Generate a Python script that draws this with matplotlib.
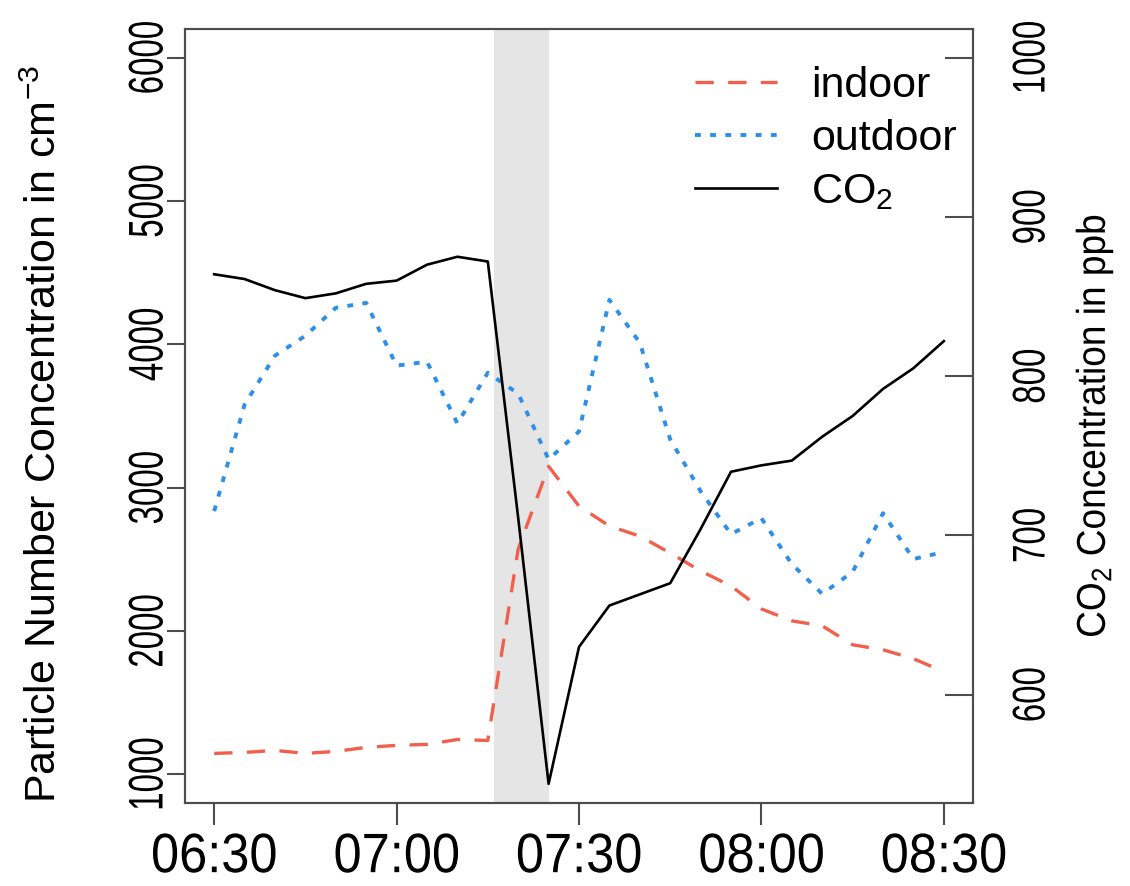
import matplotlib
matplotlib.use("Agg")
import matplotlib.pyplot as plt
import matplotlib.dates as mdates
from matplotlib.patheffects import AbstractPathEffect
from matplotlib.transforms import Affine2D
import pandas as pd

plt.rcParams['font.family'] = ['Liberation Sans', 'DejaVu Sans']
plt.rcParams['mathtext.fontset'] = 'custom'
plt.rcParams['mathtext.rm'] = 'Liberation Sans'

# 5-minute readings
times = ["06:30", "06:35", "06:40", "06:45", "06:50", "06:55", "07:00", "07:05", "07:10",
         "07:15", "07:20", "07:25", "07:30", "07:35", "07:40", "07:45", "07:50", "07:55",
         "08:00", "08:05", "08:10", "08:15", "08:20", "08:25", "08:30"]
indoor = [1146, 1153, 1167, 1146, 1160, 1188, 1202, 1209, 1243, 1236, 2572, 3149, 2871,
          2732, 2662, 2544, 2419, 2314, 2154, 2071, 2036, 1904, 1869, 1807, 1716]
outdoor = [2836, 3580, 3921, 4060, 4255, 4289, 3851, 3879, 3448, 3802, 3656, 3197, 3392,
           4310, 4011, 3337, 2975, 2676, 2787, 2467, 2259, 2412, 2822, 2502, 2551]
co2 = [864, 861, 854, 849, 852, 858, 860, 870, 875, 872, 711, 544, 630,
       656, 663, 670, 704, 740, 744, 747, 762, 775, 792, 805, 822]
shade = ["07:16", "07:25"]


class Narrow(AbstractPathEffect):
    # squeeze glyphs along the writing direction, like the condensed font of the original
    def __init__(self, sx):
        super().__init__()
        self.sx = sx

    def draw_path(self, renderer, gc, tpath, affine, rgbFace=None):
        ext = tpath.get_extents()
        cx = (ext.x0 + ext.x1) / 2
        tr = Affine2D().translate(-cx, 0).scale(self.sx, 1).translate(cx, 0) + affine
        renderer.draw_path(gc, tpath, tr, rgbFace)


day = "2021-01-01 "
t = pd.to_datetime([day + s for s in times])
frame_col = "#4d4d4d"

fig = plt.figure(figsize=(11.3, 8.86), dpi=100)
ax1 = fig.add_axes([185 / 1130, 83 / 886, 788 / 1130, 774 / 886])
ax2 = ax1.twinx()

ax1.axvspan(pd.Timestamp(day + shade[0]), pd.Timestamp(day + shade[1]),
            color="#e5e5e5", lw=0, zorder=0)
l_in, = ax1.plot(t, indoor, color="#f0604d", lw=2.4, ls=(0, (5.5, 4.3)), label="indoor")
l_out, = ax1.plot(t, outdoor, color="#2e8fe8", lw=2.8, ls=(0, (1.5, 2.4)), label="outdoor")
l_co2, = ax2.plot(t, co2, color="black", lw=1.9, label="CO$\\mathregular{_2}$")

pad = pd.Timedelta(minutes=4.8)
ax1.set_xlim(t[0] - pad, t[-1] + pad)
ax1.set_ylim(800, 6200)
ax2.set_ylim(532, 1018)
ax1.set_yticks([1000, 2000, 3000, 4000, 5000, 6000])
ax2.set_yticks([600, 700, 800, 900, 1000])
ax1.xaxis.set_major_locator(mdates.MinuteLocator(byminute=[0, 30]))
ax1.xaxis.set_major_formatter(mdates.DateFormatter("%H:%M"))

for ax in (ax1, ax2):
    for sp in ax.spines.values():
        sp.set_color(frame_col)
        sp.set_linewidth(1.5)

ax1.tick_params(axis='x', length=16, width=1.5, color=frame_col, pad=5, labelsize=40)
ax1.tick_params(axis='y', length=13, width=1.5, color=frame_col, pad=-4, labelsize=35)
ax2.tick_params(axis='y', direction='in', length=20, width=1.5, color=frame_col,
                pad=27, labelsize=33)
plt.setp(ax1.get_yticklabels(), rotation=90, va='center', path_effects=[Narrow(0.68)])
plt.setp(ax2.get_yticklabels(), rotation=90, va='center', path_effects=[Narrow(0.72)])
plt.setp(ax1.get_xticklabels(), path_effects=[Narrow(0.91)])

ax1.set_ylabel("Particle Number Concentration in cm$\\mathregular{^{-3}}$", fontsize=31)
ax1.yaxis.set_label_coords(-0.152, 0.477)
ax2.set_ylabel("CO$\\mathregular{_2}$ Concentration in ppb", fontsize=29,
               path_effects=[Narrow(0.92)])
ax2.yaxis.set_label_coords(1.127, 0.487)

ax2.legend(handles=[l_in, l_out, l_co2], loc='upper left',
           bbox_to_anchor=(695 / 1130, 1 - 66 / 886), bbox_transform=fig.transFigure,
           frameon=False, borderpad=0, borderaxespad=0, fontsize=31,
           handlelength=1.9, handletextpad=0.8, labelspacing=0.3)

fig.savefig("out.png", dpi=100)
